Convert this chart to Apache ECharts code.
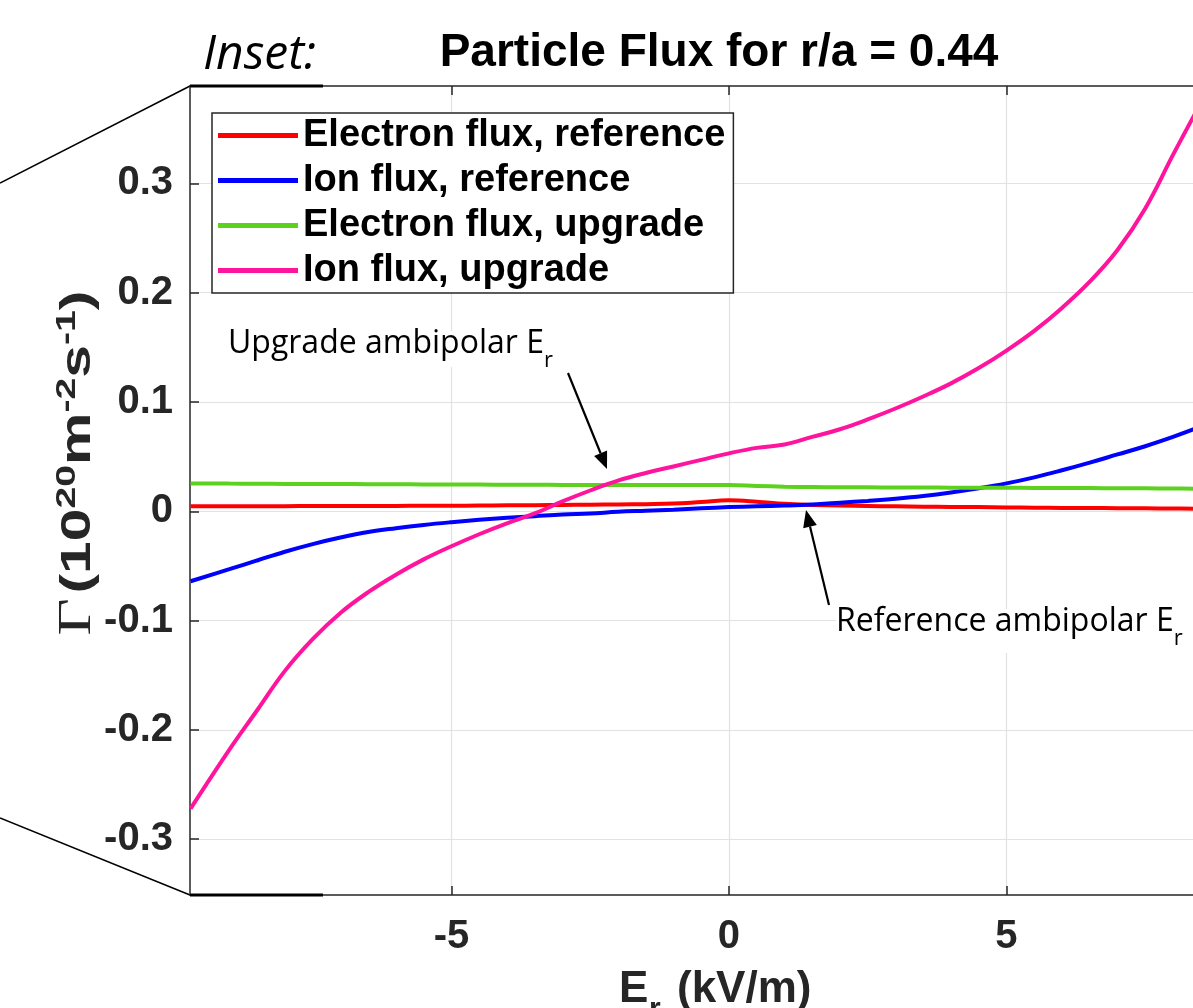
<!DOCTYPE html>
<html>
<head>
<meta charset="utf-8">
<script src="https://cdn.jsdelivr.net/npm/echarts@6/dist/echarts.min.js"></script>
<style>
  html, body { margin: 0; padding: 0; background: #fff; overflow: hidden; }
  /* plot continues past the right edge of the window, as in the cropped original */
  #chart { width: 1284px; height: 1008px; }
</style>
</head>
<body>
<div id="chart"></div>
<script>
// E_r sample points (kV/m)
const erValues = [-9.7, -9, -8.5, -8, -7.5, -7, -6.5, -6, -5.5, -5, -4.5, -4, -3.5, -3, -2.5, -2, -1.5, -1, -0.5,
  0, 0.5, 1, 1.5, 2, 2.5, 3, 3.5, 4, 4.5, 5, 5.5, 6, 6.5, 7, 7.5, 8, 8.4];

// flux (1e20 m^-2 s^-1)
const electronRef = [0.0045, 0.0046, 0.0047, 0.0047, 0.0048, 0.0048, 0.0049, 0.0049, 0.005, 0.005, 0.0052, 0.0054, 0.0056, 0.0058, 0.006, 0.0062, 0.0065, 0.007, 0.0085,
  0.010, 0.0088, 0.0068, 0.0058, 0.0052, 0.0048, 0.0045, 0.0042, 0.004, 0.0038, 0.0035, 0.0033, 0.0031, 0.003, 0.0028, 0.0027, 0.0025, 0.0024];
const ionRef = [-0.064, -0.053, -0.045, -0.037, -0.030, -0.024, -0.019, -0.0155, -0.0125, -0.010, -0.0078, -0.006, -0.0045, -0.003, -0.002, -0.0005, 0.0005, 0.0015, 0.0027,
  0.0038, 0.0045, 0.0052, 0.0062, 0.0078, 0.0095, 0.0115, 0.014, 0.0172, 0.021, 0.0255, 0.031, 0.0375, 0.0445, 0.052, 0.0595, 0.068, 0.0755];
const electronUpg = [0.0255, 0.0253, 0.0252, 0.025, 0.025, 0.0249, 0.0248, 0.0247, 0.0246, 0.0245, 0.0244, 0.0243, 0.0242, 0.0241, 0.024, 0.024, 0.024, 0.024, 0.024,
  0.024, 0.0232, 0.0225, 0.0222, 0.022, 0.0219, 0.0218, 0.0217, 0.0216, 0.0215, 0.0215, 0.0214, 0.0213, 0.0212, 0.0211, 0.021, 0.0208, 0.0206];
const ionUpg = [-0.272, -0.218, -0.182, -0.146, -0.117, -0.093, -0.074, -0.058, -0.044, -0.032, -0.021, -0.011, -0.002, 0.009, 0.019, 0.028, 0.035, 0.041, 0.047,
  0.053, 0.058, 0.061, 0.068, 0.075, 0.084, 0.094, 0.105, 0.117, 0.131, 0.147, 0.165, 0.186, 0.210, 0.239, 0.277, 0.326, 0.364];

const seriesNames = ['Electron flux, reference', 'Ion flux, reference', 'Electron flux, upgrade', 'Ion flux, upgrade'];
const xTicks = [-5, 0, 5, 10];
const yTicks = [-0.3, -0.2, -0.1, 0, 0.1, 0.2, 0.3];

const colors = ['#ff0000', '#0000ff', '#5cd11e', '#ff149d'];
const axisColor = '#262626';
const allSeries = [electronRef, ionRef, electronUpg, ionUpg];

const myChart = echarts.init(document.getElementById('chart'));

function arrow(x1, y1, x2, y2) {
  const ang = Math.atan2(y2 - y1, x2 - x1);
  const L = 17, W = 7;
  const bx = x2 - L * Math.cos(ang), by = y2 - L * Math.sin(ang);
  const px = -Math.sin(ang), py = Math.cos(ang);
  return [
    { type: 'line', z: 10, shape: { x1: x1, y1: y1, x2: bx, y2: by }, style: { stroke: '#000', lineWidth: 2.2 } },
    { type: 'polygon', z: 10, shape: { points: [[x2, y2], [bx + W * px, by + W * py], [bx - W * px, by - W * py]] }, style: { fill: '#000' } }
  ];
}

const labelFont = 'Liberation Sans';
const noteRich = {
  n: { fontFamily: 'Open Sans', fontSize: 32, lineHeight: 56, fill: '#000' },
  sub: { fontFamily: 'Open Sans', fontSize: 22, lineHeight: 20, verticalAlign: 'bottom', fill: '#000' }
};

const option = {
  animation: false,
  backgroundColor: '#fff',
  grid: { left: 190, top: 86, right: 0, bottom: 113, outerBoundsMode: 'none' },
  legend: {
    orient: 'vertical',
    left: 212, top: 113,
    icon: 'rect',
    itemWidth: 80, itemHeight: 5, itemGap: 0, itemTextGap: 7,
    padding: [0, 8, 0, 6],
    backgroundColor: '#fff',
    borderColor: axisColor, borderWidth: 1.5,
    textStyle: { fontFamily: labelFont, fontWeight: 'bold', fontSize: 38, color: '#000', lineHeight: 45 },
    data: seriesNames
  },
  xAxis: [{
    type: 'value', min: -9.71, max: 10,
    axisLine: { show: true, onZero: false, lineStyle: { color: axisColor, width: 1.5 } },
    axisTick: { show: true, inside: true, length: 9, customValues: xTicks, lineStyle: { color: axisColor, width: 1.5 } },
    axisLabel: { customValues: xTicks, margin: 22, color: axisColor, fontFamily: labelFont, fontWeight: 'bold', fontSize: 40 },
    splitLine: { show: true, lineStyle: { color: '#e2e2e2', width: 1.2 } }
  }, {
    type: 'value', min: -9.71, max: 10, position: 'top',
    axisLine: { show: true, onZero: false, lineStyle: { color: axisColor, width: 1.5 } },
    axisTick: { show: true, inside: true, length: 9, customValues: xTicks, lineStyle: { color: axisColor, width: 1.5 } },
    axisLabel: { show: false },
    splitLine: { show: false }
  }],
  yAxis: {
    type: 'value', min: -0.351, max: 0.389,
    axisLine: { show: true, onZero: false, lineStyle: { color: axisColor, width: 1.5 } },
    axisTick: { show: true, inside: true, length: 9, customValues: yTicks, lineStyle: { color: axisColor, width: 1.5 } },
    axisLabel: { customValues: yTicks, margin: 17, color: axisColor, fontFamily: labelFont, fontWeight: 'bold', fontSize: 40 },
    splitLine: { show: true, lineStyle: { color: '#e2e2e2', width: 1.2 } }
  },
  series: allSeries.map((vals, i) => ({
    name: seriesNames[i],
    type: 'line',
    showSymbol: false,
    smooth: 0.4,
    color: colors[i],
    lineStyle: { width: 4, color: colors[i] },
    data: erValues.map((x, j) => [x, vals[j]])
  })),
  graphic: [
    // inset zoom lines of the parent figure
    { type: 'line', shape: { x1: 0, y1: 183, x2: 190, y2: 86 }, style: { stroke: '#000', lineWidth: 1.5 } },
    { type: 'line', shape: { x1: 0, y1: 818, x2: 190, y2: 895 }, style: { stroke: '#000', lineWidth: 1.5 } },
    { type: 'line', z: 10, shape: { x1: 190, y1: 86, x2: 323, y2: 86 }, style: { stroke: '#000', lineWidth: 3 } },
    { type: 'line', z: 10, shape: { x1: 190, y1: 895, x2: 323, y2: 895 }, style: { stroke: '#000', lineWidth: 3 } },
    // titles
    { type: 'text', style: { x: 203, y: 55, text: 'Inset:', fontFamily: 'Open Sans', fontStyle: 'italic', fontSize: 48, fill: '#000', textVerticalAlign: 'middle' } },
    { type: 'text', style: { x: 719, y: 53, text: 'Particle Flux for r/a = 0.44', fontFamily: labelFont, fontWeight: 'bold', fontSize: 46, fill: '#000', textAlign: 'center', textVerticalAlign: 'middle' } },
    // x axis name
    { type: 'text', style: { x: 619, y: 990, text: 'E', fontFamily: labelFont, fontWeight: 'bold', fontSize: 44, fill: axisColor, textVerticalAlign: 'middle' } },
    { type: 'text', style: { x: 649, y: 1010, text: 'r', fontFamily: labelFont, fontWeight: 'bold', fontSize: 30, fill: axisColor, textVerticalAlign: 'middle' } },
    { type: 'text', style: { x: 677, y: 990, text: '(kV/m)', fontFamily: labelFont, fontWeight: 'bold', fontSize: 44, fill: axisColor, textVerticalAlign: 'middle' } },
    // y axis name
    {
      type: 'text', x: 78, y: 463, rotation: Math.PI / 2, scaleX: 1.4,
      style: {
        text: '{g|Γ} {b|(10}{s|20}{b|m}{s|-2}{b|s}{s|-1}{b|)}',
        textAlign: 'center', textVerticalAlign: 'middle', fill: axisColor,
        rich: {
          g: { fontFamily: 'Liberation Serif', fontSize: 46, lineHeight: 50, fill: axisColor },
          b: { fontFamily: labelFont, fontWeight: 'bold', fontSize: 42, lineHeight: 50, fill: axisColor },
          s: { fontFamily: labelFont, fontWeight: 'bold', fontSize: 28, lineHeight: 26, verticalAlign: 'top', fill: axisColor }
        }
      }
    },
    // annotations, on white boxes that hide the grid behind them
    { type: 'rect', z: 5, shape: { x: 226, y: 331, width: 336, height: 36 }, style: { fill: '#fff' } },
    { type: 'rect', z: 5, shape: { x: 836, y: 609, width: 357, height: 44 }, style: { fill: '#fff' } },
    { type: 'text', z: 6, style: { x: 228, y: 344, text: '{n|Upgrade ambipolar E}{sub|r}', rich: noteRich, textVerticalAlign: 'middle' } },
    { type: 'text', z: 6, style: { x: 836, y: 622, text: '{n|Reference ambipolar E}{sub|r}', rich: noteRich, textVerticalAlign: 'middle' } }
  ].concat(arrow(568, 373, 607, 469), arrow(829, 605, 806, 510))
};

myChart.setOption(option);
</script>
</body>
</html>
